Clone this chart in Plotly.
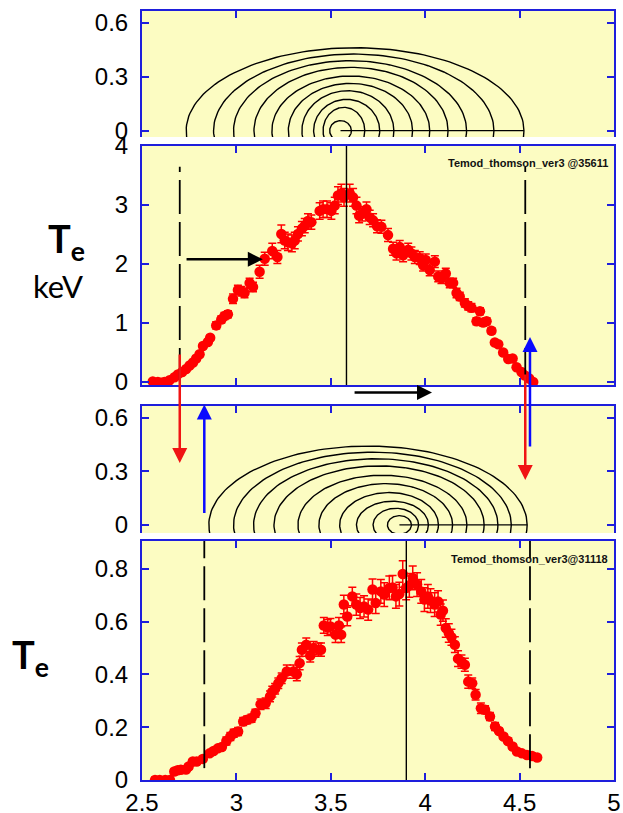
import numpy as np
import plotly.graph_objects as go

W, H = 623, 813

# ---------------- data ----------------
x_ticks = [2.5, 3, 3.5, 4, 4.5, 5]
x_tick_text = ["2.5", "3", "3.5", "4", "4.5", "5"]

# Te profile, shot 35611 (keV)
r_35611 = [2.557, 2.584, 2.602, 2.619, 2.646, 2.672, 2.690, 2.713, 2.734, 2.752,
           2.770, 2.787, 2.805, 2.823, 2.849, 2.861, 2.893, 2.920, 2.937, 2.955,
           2.982, 3.008, 3.026, 3.043, 3.070, 3.088, 3.123, 3.150, 3.190, 3.217,
           3.238, 3.256, 3.273, 3.294, 3.309, 3.326, 3.347, 3.362, 3.379, 3.397,
           3.441, 3.459, 3.480, 3.503, 3.521, 3.538, 3.556, 3.570, 3.600, 3.618,
           3.636, 3.650, 3.667, 3.689, 3.706, 3.724, 3.745, 3.768, 3.803, 3.830,
           3.848, 3.865, 3.883, 3.910, 3.927, 3.945, 3.971, 3.989, 4.003, 4.024,
           4.051, 4.069, 4.086, 4.109, 4.130, 4.148, 4.166, 4.183, 4.210, 4.228,
           4.245, 4.272, 4.290, 4.307, 4.325, 4.351, 4.369, 4.387, 4.413, 4.440,
           4.463, 4.484, 4.510, 4.528, 4.551, 4.572]
te_35611 = [0.01, 0.0, -0.01, 0.0, 0.03, 0.08, 0.13, 0.17, 0.22, 0.28,
            0.33, 0.40, 0.47, 0.61, 0.68, 0.75, 0.96, 1.06, 1.12, 1.15,
            1.41, 1.56, 1.54, 1.51, 1.68, 1.61, 1.87, 2.09, 2.22, 2.12,
            2.51, 2.40, 2.37, 2.35, 2.40, 2.51, 2.60, 2.65, 2.73, 2.71,
            2.90, 2.93, 2.93, 2.90, 2.99, 3.16, 3.20, 3.13, 3.20, 3.13,
            2.99, 2.82, 2.85, 2.93, 2.79, 2.74, 2.64, 2.63, 2.49, 2.26,
            2.18, 2.29, 2.15, 2.24, 2.18, 2.12, 2.10, 1.98, 2.07, 1.90,
            2.04, 1.79, 1.76, 1.84, 1.68, 1.68, 1.51, 1.45, 1.34, 1.29,
            1.26, 1.03, 1.20, 1.01, 1.03, 0.87, 0.67, 0.64, 0.50, 0.39,
            0.40, 0.25, 0.17, 0.11, 0.06, 0.0]
err_35611 = [0.02, 0.02, 0.02, 0.02, 0.02, 0.02, 0.02, 0.02, 0.02, 0.02,
             0.04, 0.04, 0.04, 0.04, 0.04, 0.04, 0.06, 0.06, 0.06, 0.06,
             0.08, 0.08, 0.08, 0.08, 0.08, 0.08, 0.11, 0.11, 0.13, 0.11,
             0.15, 0.14, 0.14, 0.14, 0.14, 0.12, 0.12, 0.12, 0.12, 0.12,
             0.14, 0.14, 0.14, 0.14, 0.14, 0.15, 0.15, 0.15, 0.15, 0.15,
             0.14, 0.12, 0.12, 0.12, 0.12, 0.11, 0.11, 0.11, 0.11, 0.11,
             0.11, 0.11, 0.11, 0.11, 0.11, 0.11, 0.11, 0.10, 0.10, 0.10,
             0.10, 0.09, 0.09, 0.09, 0.08, 0.08, 0.08, 0.07, 0.07, 0.07,
             0.07, 0.06, 0.06, 0.06, 0.06, 0.05, 0.04, 0.04, 0.04, 0.03,
             0.03, 0.02, 0.02, 0.02, 0.02, 0.02]
axis_35611 = 3.583
bounds_35611 = [2.700, 4.530]

# flux surfaces, shot 35611 (left edge, right edge, height)
flux_left_35611 = [2.734, 2.879, 2.985, 3.093, 3.188, 3.275, 3.347, 3.409, 3.459, 3.494]
flux_right_35611 = [4.523, 4.364, 4.219, 4.121, 4.024, 3.933, 3.834, 3.759, 3.680, 3.609]
flux_top_35611 = [0.461, 0.426, 0.389, 0.352, 0.304, 0.263, 0.222, 0.174, 0.130, 0.056]

# Te profile, shot 31118
r_31118 = [2.569, 2.594, 2.623, 2.648, 2.671, 2.689, 2.706, 2.733, 2.747, 2.769,
           2.790, 2.822, 2.858, 2.879, 2.902, 2.923, 2.947, 2.968, 2.986, 3.009,
           3.036, 3.057, 3.080, 3.101, 3.128, 3.155, 3.178, 3.190, 3.205, 3.222,
           3.240, 3.267, 3.302, 3.320, 3.335, 3.347, 3.370, 3.391, 3.409, 3.436,
           3.448, 3.463, 3.484, 3.498, 3.525, 3.543, 3.555, 3.569, 3.587, 3.614,
           3.635, 3.655, 3.676, 3.698, 3.721, 3.738, 3.765, 3.783, 3.810, 3.827,
           3.845, 3.863, 3.881, 3.899, 3.916, 3.934, 3.957, 3.979, 3.996, 4.014,
           4.028, 4.050, 4.068, 4.082, 4.094, 4.109, 4.125, 4.139, 4.157, 4.174,
           4.192, 4.210, 4.228, 4.249, 4.267, 4.295, 4.317, 4.343, 4.370, 4.391,
           4.415, 4.438, 4.463, 4.486, 4.512, 4.539, 4.566, 4.593]
te_31118 = [0.0, 0.0, 0.0, 0.0, 0.032, 0.037, 0.039, 0.040, 0.051, 0.070,
            0.070, 0.080, 0.101, 0.110, 0.120, 0.125, 0.148, 0.165, 0.177, 0.184,
            0.222, 0.228, 0.234, 0.253, 0.287, 0.291, 0.317, 0.335, 0.346, 0.367,
            0.386, 0.411, 0.411, 0.401, 0.443, 0.494, 0.513, 0.472, 0.500, 0.494,
            0.494, 0.586, 0.578, 0.582, 0.551, 0.586, 0.551, 0.665, 0.620, 0.696,
            0.665, 0.652, 0.658, 0.646, 0.722, 0.671, 0.715, 0.703, 0.728, 0.730,
            0.696, 0.705, 0.781, 0.728, 0.738, 0.766, 0.741, 0.715, 0.684, 0.696,
            0.680, 0.665, 0.677, 0.627, 0.642, 0.576, 0.557, 0.541, 0.513, 0.460,
            0.449, 0.437, 0.373, 0.367, 0.323, 0.272, 0.266, 0.241, 0.203, 0.186,
            0.165, 0.148, 0.127, 0.108, 0.101, 0.095, 0.091, 0.085]
err_31118 = [0.01, 0.01, 0.01, 0.01, 0.01, 0.01, 0.01, 0.01, 0.01, 0.01, 0.01, 0.01,
             0.01, 0.01, 0.01, 0.01, 0.015, 0.015, 0.015, 0.015, 0.015, 0.015, 0.015, 0.015,
             0.02, 0.02, 0.02, 0.02, 0.02, 0.02, 0.02, 0.025, 0.025, 0.025, 0.025, 0.025,
             0.025, 0.025, 0.025, 0.025, 0.025, 0.03, 0.03, 0.03, 0.03, 0.03, 0.03, 0.035,
             0.035, 0.035, 0.04, 0.04, 0.04, 0.04, 0.04, 0.04, 0.045, 0.045, 0.045, 0.045,
             0.045, 0.045, 0.05, 0.045, 0.045, 0.045, 0.045, 0.045, 0.045, 0.045, 0.045, 0.045,
             0.04, 0.04, 0.04, 0.035, 0.035, 0.03, 0.03, 0.03, 0.025, 0.025, 0.025, 0.02,
             0.02, 0.02, 0.015, 0.015, 0.015, 0.01, 0.01, 0.01, 0.01, 0.01, 0.01, 0.01, 0.01, 0.01]
axis_31118 = 3.900
bounds_31118 = [2.830, 4.555]

# flux surfaces, shot 31118
flux_left_31118 = [2.854, 2.985, 3.091, 3.199, 3.326, 3.437, 3.547, 3.636, 3.724, 3.800]
flux_right_31118 = [4.540, 4.456, 4.385, 4.312, 4.221, 4.145, 4.070, 4.017, 3.965, 3.927]
flux_top_31118 = [0.441, 0.407, 0.370, 0.330, 0.278, 0.231, 0.181, 0.133, 0.093, 0.052]

# ---------------- style ----------------
BLUE = "#1E1EDC"
BG = "#FCFCC2"
RED = "#FF0000"
TICKFONT = "Liberation Sans, Arial, sans-serif"
LABELFONT = "Lato, Open Sans, sans-serif"


def py(p):
    return 1 - p / H


def px(p):
    return p / W


fig = go.Figure()


def add_flux(left, right, top, xa, ya):
    t = np.linspace(0, 2 * np.pi, 181)
    for L, R, B in zip(left, right, top):
        xc = (L + R) / 2
        a = (R - L) / 2
        fig.add_trace(go.Scatter(x=xc + a * np.cos(t), y=B * np.sin(t), mode="lines",
                                 line=dict(color="black", width=1.4),
                                 xaxis=xa, yaxis=ya, hoverinfo="skip"))
    # midplane line from magnetic axis to outer boundary
    fig.add_trace(go.Scatter(x=[(left[-1] + right[-1]) / 2, right[0]], y=[0, 0], mode="lines",
                             line=dict(color="black", width=1.2), xaxis=xa, yaxis=ya,
                             hoverinfo="skip"))


add_flux(flux_left_35611, flux_right_35611, flux_top_35611, "x", "y")
add_flux(flux_left_31118, flux_right_31118, flux_top_31118, "x3", "y3")

for r, te, er, xa, ya in [(r_35611, te_35611, err_35611, "x2", "y2"),
                          (r_31118, te_31118, err_31118, "x4", "y4")]:
    fig.add_trace(go.Scatter(x=r, y=te, mode="markers",
                             marker=dict(color=RED, size=10.5),
                             error_y=dict(type="data", array=er, color=RED,
                                          thickness=1.5, width=4),
                             xaxis=xa, yaxis=ya))

shapes = []
# magnetic axis (solid) and boundaries (dashed)
shapes.append(dict(type="line", xref="x2", yref="y2 domain", x0=axis_35611, x1=axis_35611,
                   y0=0, y1=1, line=dict(color="black", width=1.4)))
for b in bounds_35611:
    shapes.append(dict(type="line", xref="x2", yref="y2", x0=b, x1=b, y0=0.0, y1=3.65,
                       line=dict(color="black", width=1.8, dash="34px,8px")))
shapes.append(dict(type="line", xref="x4", yref="y4 domain", x0=axis_31118, x1=axis_31118,
                   y0=0, y1=1, line=dict(color="black", width=1.4)))
for b in bounds_31118:
    shapes.append(dict(type="line", xref="x4", yref="y4", x0=b, x1=b, y0=0.045, y1=0.906,
                       line=dict(color="black", width=1.8, dash="34px,8px")))

ann = []
# shot labels
ann.append(dict(text="<b>Temod_thomson_ver3 @35611</b>", xref="paper", yref="paper",
                x=px(610), y=py(163), xanchor="right", yanchor="middle", showarrow=False,
                font=dict(family=TICKFONT, size=11, color="#111")))
ann.append(dict(text="<b>Temod_thomson_ver3@31118</b>", xref="paper", yref="paper",
                x=px(610), y=py(559), xanchor="right", yanchor="middle", showarrow=False,
                font=dict(family=TICKFONT, size=11, color="#111")))
# left labels
ann.append(dict(text="<b>T<sub>e</sub></b>", xref="paper", yref="paper", x=px(66), y=py(241),
                xanchor="center", yanchor="middle", showarrow=False,
                font=dict(family=LABELFONT, size=38, color="black")))
ann.append(dict(text="keV", xref="paper", yref="paper", x=px(58), y=py(286),
                xanchor="center", yanchor="middle", showarrow=False,
                font=dict(family=LABELFONT, size=31, color="black")))
ann.append(dict(text="<b>T<sub>e</sub></b>", xref="paper", yref="paper", x=px(30), y=py(657),
                xanchor="center", yanchor="middle", showarrow=False,
                font=dict(family=LABELFONT, size=38, color="black")))

# black arrows
ann.append(dict(text="", x=3.14, y=2.08, xref="x2", yref="y2", ax=2.728, ay=2.08,
                axref="x2", ayref="y2", showarrow=True, arrowhead=2, arrowsize=1.2,
                arrowwidth=2.5, arrowcolor="black"))
ann.append(dict(text="", x=4.036, y=py(392.5), xref="x2", yref="paper", ax=3.618, ay=0,
                axref="x2", ayref="pixel", showarrow=True, arrowhead=2, arrowsize=1.2,
                arrowwidth=2.5, arrowcolor="black"))
# red arrows (down)
ann.append(dict(text="", x=bounds_35611[0], y=py(463), xref="x2", yref="paper", ax=0, ay=-110,
                axref="pixel", ayref="pixel", showarrow=True, arrowhead=2, arrowsize=1.2,
                arrowwidth=2.5, arrowcolor="#F01414"))
ann.append(dict(text="", x=bounds_35611[1], y=py(480), xref="x2", yref="paper", ax=0, ay=-107,
                axref="pixel", ayref="pixel", showarrow=True, arrowhead=2, arrowsize=1.2,
                arrowwidth=2.5, arrowcolor="#F01414"))
# blue arrows (up)
ann.append(dict(text="", x=bounds_31118[0], y=py(404.5), xref="x4", yref="paper", ax=0, ay=110,
                axref="pixel", ayref="pixel", showarrow=True, arrowhead=2, arrowsize=1.2,
                arrowwidth=2.5, arrowcolor="#0A0AFF"))
ann.append(dict(text="", x=bounds_31118[1], y=py(337), xref="x4", yref="paper", ax=0, ay=111,
                axref="pixel", ayref="pixel", showarrow=True, arrowhead=2, arrowsize=1.2,
                arrowwidth=2.5, arrowcolor="#0A0AFF"))

xdom = [px(142), px(614)]
common = dict(showline=True, linecolor=BLUE, linewidth=2, ticks="inside", ticklen=7,
              tickwidth=2, tickcolor=BLUE, showgrid=False, zeroline=False, automargin=False)
xcommon = dict(common, range=[2.5, 5], tickvals=x_ticks, ticktext=x_tick_text, domain=xdom)
yfont = dict(family=TICKFONT, size=24, color="black")

fig.update_layout(
    width=W, height=H, margin=dict(l=0, r=0, t=0, b=0, autoexpand=False),
    paper_bgcolor="white", plot_bgcolor=BG, showlegend=False,
    xaxis=dict(xcommon, anchor="y", side="top", mirror=False, showticklabels=False),
    xaxis2=dict(xcommon, anchor="y2", mirror="ticks", showticklabels=False),
    xaxis3=dict(xcommon, anchor="y3", side="top", mirror=False, showticklabels=False),
    xaxis4=dict(xcommon, anchor="y4", mirror="ticks", showticklabels=True,
                tickfont=dict(family=TICKFONT, size=24, color="black"), ticklabelstandoff=0),
    yaxis=dict(common, anchor="x", domain=[py(137), py(10.7)], range=[-0.035, 0.667],
               tickvals=[0, 0.3, 0.6], ticktext=["0", "0.3", "0.6"], mirror="ticks",
               tickfont=yfont, ticklabelstandoff=7),
    yaxis2=dict(common, anchor="x2", domain=[py(385), py(146)], range=[-0.05, 4.0],
                tickvals=[0, 1, 2, 3, 4], ticktext=["0", "1", "2", "3", "4"], mirror="ticks",
                tickfont=yfont, ticklabelstandoff=7),
    yaxis3=dict(common, anchor="x3", domain=[py(533), py(406)], range=[-0.045, 0.665],
                tickvals=[0, 0.3, 0.6], ticktext=["0", "0.3", "0.6"], mirror="ticks",
                tickfont=yfont, ticklabelstandoff=7),
    yaxis4=dict(common, anchor="x4", domain=[py(780), py(541)], range=[0, 0.906],
                tickvals=[0, 0.2, 0.4, 0.6, 0.8], ticktext=["0", "0.2", "0.4", "0.6", "0.8"],
                mirror="ticks", tickfont=yfont, ticklabelstandoff=7),
    shapes=shapes, annotations=ann,
)

fig.write_html("out.html", config={"displayModeBar": False},
               post_script="document.body.style.margin='0px';document.body.style.overflow='hidden';")
